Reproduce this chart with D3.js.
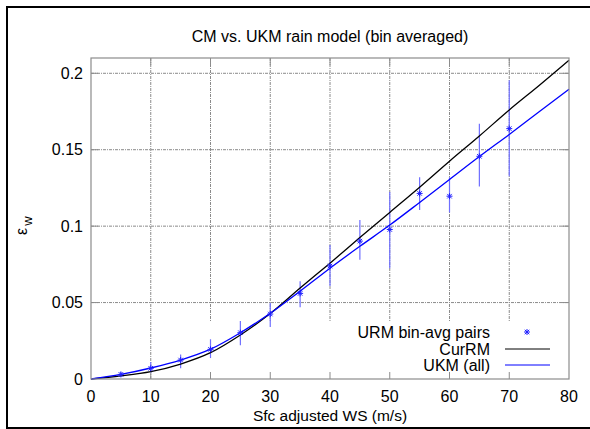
<!DOCTYPE html>
<html><head><meta charset="utf-8">
<script src="https://cdn.jsdelivr.net/npm/d3@7/dist/d3.min.js"></script>
<style>
body{margin:0;background:#fff;}
text{font-family:"Liberation Sans",Arial,Helvetica,sans-serif;fill:#000;}
</style></head>
<body><svg id="c" width="590" height="429"></svg>
<script>
const titleText = "CM vs. UKM rain model (bin averaged)";
const xLabelText = "Sfc adjusted WS (m/s)";
const xTicks = [0,10,20,30,40,50,60,70,80];
const yTicks = [0,0.05,0.1,0.15,0.2];
const yTickLabels = ["0","0.05","0.1","0.15","0.2"];
const legendLabels = ["URM bin-avg pairs","CurRM","UKM (all)"];

// curves
const curveX = [0,5,10,15,20,25,30,35,40,45,50,55,60,65,70,75,80];
const curRM  = [0,0.002,0.0048,0.0098,0.0172,0.0288,0.0428,0.0595,0.0758,0.0925,0.109,0.1255,0.1425,0.159,0.176,0.192,0.2085];
const ukmAll = [0,0.003,0.0072,0.0124,0.0195,0.0303,0.0430,0.0575,0.0725,0.0868,0.1007,0.1155,0.1305,0.1455,0.1600,0.1748,0.1895];

// bin-averaged pairs with error bars
const binX   = [5,10,15,20,25,30,35,40,45,50,55,60,65,70];
const binY   = [0.003,0.007,0.0124,0.0194,0.0303,0.0425,0.056,0.0739,0.0902,0.0978,0.1214,0.1196,0.1457,0.1638];
const binLo  = [0.0015,0.0037,0.007,0.0137,0.022,0.034,0.047,0.0608,0.078,0.0724,0.1105,0.109,0.126,0.1327];
const binHi  = [0.0045,0.0112,0.016,0.026,0.038,0.0497,0.064,0.0876,0.104,0.1224,0.132,0.132,0.167,0.1954];

const svg = d3.select("#c");
const L=91, R=569, T=58, B=379;
const x = d3.scaleLinear().domain([0,80]).range([L,R]);
const y = d3.scaleLinear().domain([0,0.21]).range([B,T]);

// outer frame
svg.append("line").attr("x1",7).attr("x2",7).attr("y1",6).attr("y2",429).attr("stroke","#000").attr("stroke-width",2);
svg.append("line").attr("x1",6).attr("x2",590).attr("y1",7).attr("y2",7).attr("stroke","#000").attr("stroke-width",2);
svg.append("line").attr("x1",6).attr("x2",590).attr("y1",428).attr("y2",428).attr("stroke","#000").attr("stroke-width",2);

// grid
const gridStyle = g => g.attr("stroke","#8a8a8a").attr("stroke-width",1).attr("stroke-dasharray","3,1,1,1");
svg.append("g").selectAll("line").data(xTicks.filter(d=>d>0&&d<80)).join("line")
  .attr("x1",d=>x(d)).attr("x2",d=>x(d)).attr("y1",T).attr("y2",B).call(gridStyle);
svg.append("g").selectAll("line").data(yTicks.filter(d=>d>0)).join("line")
  .attr("x1",L).attr("x2",R).attr("y1",d=>y(d)).attr("y2",d=>y(d)).call(gridStyle);

// opaque key area
svg.append("rect").attr("x",175).attr("y",322).attr("width",R-175).attr("height",B-322).attr("fill","#fff");

// error bars
svg.append("g").selectAll("line").data(binX).join("line")
  .attr("x1",(d)=>x(d)).attr("x2",(d)=>x(d))
  .attr("y1",(d,i)=>y(binLo[i])).attr("y2",(d,i)=>y(binHi[i]))
  .attr("stroke","#6f6fff").attr("stroke-width",1.2);

// curves
const line = d3.line().x((d,i)=>x(curveX[i])).y(d=>y(d)).curve(d3.curveMonotoneX);
svg.append("path").attr("d",line(curRM)).attr("fill","none").attr("stroke","#000").attr("stroke-width",1.3);
svg.append("path").attr("d",line(ukmAll)).attr("fill","none").attr("stroke","#0000ff").attr("stroke-width",1.3);

// star markers
function star(g, cx, cy, r){
  const p = `M${cx-r},${cy}L${cx+r},${cy}M${cx},${cy-r}L${cx},${cy+r}M${cx-r*0.75},${cy-r*0.75}L${cx+r*0.75},${cy+r*0.75}M${cx-r*0.75},${cy+r*0.75}L${cx+r*0.75},${cy-r*0.75}`;
  g.append("path").attr("d",p).attr("stroke","#2020ff").attr("stroke-width",1).attr("fill","none");
}
const mg = svg.append("g");
binX.forEach((d,i)=>star(mg, x(d), y(binY[i]), 3));

// border
svg.append("rect").attr("x",L).attr("y",T).attr("width",R-L).attr("height",B-T)
  .attr("fill","none").attr("stroke","#8c8c8c").attr("stroke-width",1.2);

// ticks (inward, mirrored)
const tk = svg.append("g").attr("stroke","#8c8c8c").attr("stroke-width",1);
xTicks.filter(d=>d>0&&d<80).forEach(d=>{
  tk.append("line").attr("x1",x(d)).attr("x2",x(d)).attr("y1",B).attr("y2",B-7);
  tk.append("line").attr("x1",x(d)).attr("x2",x(d)).attr("y1",T).attr("y2",T+7);
});
yTicks.filter(d=>d>0).forEach(d=>{
  tk.append("line").attr("x1",L).attr("x2",L+7).attr("y1",y(d)).attr("y2",y(d));
  tk.append("line").attr("x1",R).attr("x2",R-7).attr("y1",y(d)).attr("y2",y(d));
});

// tick labels
svg.append("g").selectAll("text").data(xTicks).join("text")
  .attr("x",d=>x(d)).attr("y",402).attr("text-anchor","middle").attr("font-size",16).text(d=>d);
svg.append("g").selectAll("text").data(yTicks).join("text")
  .attr("x",83).attr("y",d=>y(d)).attr("dy","0.36em").attr("text-anchor","end").attr("font-size",16)
  .text((d,i)=>yTickLabels[i]);

// title and axis labels
svg.append("text").attr("x",330).attr("y",42).attr("text-anchor","middle").attr("font-size",16).text(titleText);
svg.append("text").attr("x",330).attr("y",421).attr("text-anchor","middle").attr("font-size",15.5).text(xLabelText);
const yl = svg.append("text").attr("transform","translate(27,235) rotate(-90)").attr("font-size",16);
yl.append("tspan").text("ε");
yl.append("tspan").attr("dy",5).attr("dx",2).attr("font-size",13).text("w");

// legend
const ly = [332,349,365];
legendLabels.forEach((t,i)=>{
  svg.append("text").attr("x",490).attr("y",ly[i]).attr("dy","0.36em").attr("text-anchor","end").attr("font-size",16).text(t);
});
star(svg, 527, ly[0], 3);
svg.append("line").attr("x1",505).attr("x2",550).attr("y1",ly[1]).attr("y2",ly[1]).attr("stroke","#000").attr("stroke-width",1);
svg.append("line").attr("x1",505).attr("x2",550).attr("y1",ly[2]).attr("y2",ly[2]).attr("stroke","#0000ff").attr("stroke-width",1);
</script></body></html>
